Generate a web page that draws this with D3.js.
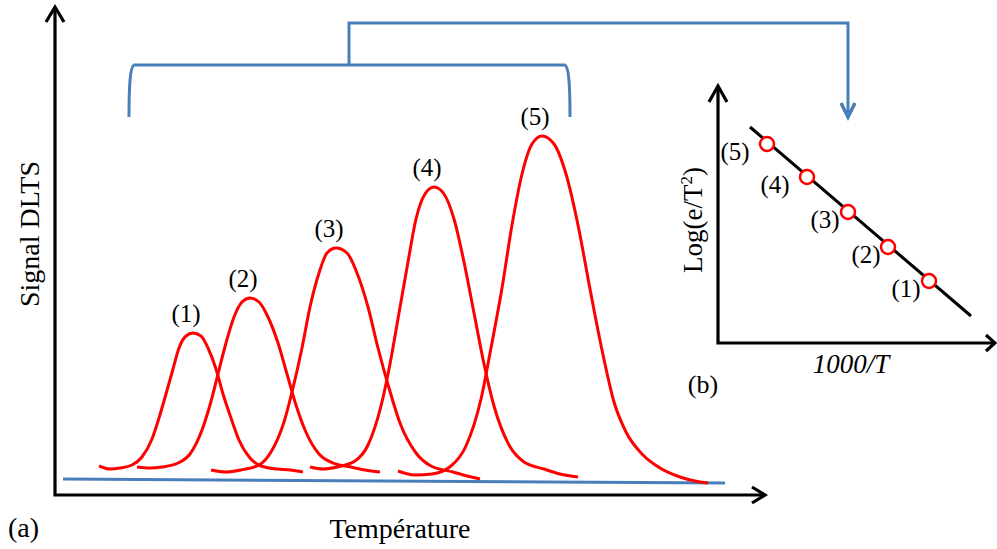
<!DOCTYPE html>
<html><head><meta charset="utf-8">
<script src="https://cdn.jsdelivr.net/npm/d3@7"></script>
<style>html,body{margin:0;padding:0;background:#fff;} svg{display:block;font-family:"Liberation Serif","Times New Roman",serif;}</style>
</head><body><svg id="chart" width="997" height="549"></svg>
<script>
// ---- data (arbitrary units) ----
const peakNames = ["(1)", "(2)", "(3)", "(4)", "(5)"];
// [temperature, DLTS signal]
const peak1 = [[44,29],[55,26],[65,27],[77,30],[87,38],[97,56],[104,77],[111,101],[118,126],[124,147],[131,159],[138,162],[146,159],[153,147],[161,126],[168,101],[176,77],[184,55],[195,37],[206,29],[222,26],[235,25],[248,23]];
const peak2 = [[82,28],[95,27],[107,28],[123,32],[135,41],[147,65],[155,90],[163,121],[171,152],[179,178],[187,193],[195,197],[204,193],[213,178],[223,152],[232,121],[241,90],[250,65],[264,41],[278,32],[296,28],[310,25],[325,23]];
const peak3 = [[156,25],[171,23],[186,25],[204,30],[216,43],[229,73],[238,107],[247,147],[255,188],[264,222],[272,242],[281,247],[292,242],[302,222],[313,188],[323,147],[334,107],[345,72],[361,42],[376,29],[398,23],[412,19],[425,16]];
const peak4 = [[255,28],[268,26],[282,28],[300,34],[313,50],[326,89],[335,131],[344,182],[353,233],[361,276],[370,301],[379,308],[389,301],[399,276],[409,233],[419,182],[429,131],[439,89],[454,50],[469,33],[489,26],[505,21],[523,18]];
const peak5 = [[343,24],[360,20],[377,21],[396,29],[411,49],[426,96],[436,147],[447,207],[457,270],[467,321],[477,351],[487,359],[499,351],[511,321],[523,270],[535,206],[547,145],[559,93],[571,63],[588,40],[605,27],[625,18],[640,14],[653,12]];
const peaks = [peak1, peak2, peak3, peak4, peak5];
const baseline = [[8,16],[670,12]];

// Arrhenius inset: (1)..(5)
const inverseT = [211, 170, 130, 89, 49];
const logEoverT2 = [62, 96, 131, 166, 199];
const fitLine = [[32,216],[253,27]];
const insetLabelDx = [-23, -22, -23, -32, -32];

// ---- drawing ----
const red = "#ff0000", blue = "#4a7ebb", ink = "#000";
const svg = d3.select("#chart");

const x = d3.scaleLinear().domain([0, 710]).range([55, 765]);
const y = d3.scaleLinear().domain([0, 488]).range([495, 7]);

// main axes
const ax = svg.append("g").attr("fill", "none").attr("stroke", ink).attr("stroke-width", 3.2);
ax.append("path").attr("d", `M${x(0)},${y(488)+1}L${x(0)},${y(0)}L${x(710)},${y(0)}`).attr("stroke-linejoin", "miter");
ax.append("path").attr("d", `M${x(0)-9},${y(488)+15}L${x(0)},${y(488)}L${x(0)+9},${y(488)+15}`);
ax.append("path").attr("d", `M${x(710)-13},${y(0)-8}L${x(710)},${y(0)}L${x(710)-13},${y(0)+8}`);

// blue baseline
const line = d3.line().x(d => x(d[0])).y(d => y(d[1]));
svg.append("path").attr("d", line(baseline)).attr("fill", "none").attr("stroke", blue).attr("stroke-width", 3);

// red DLTS peaks
const curve = d3.line().x(d => x(d[0])).y(d => y(d[1])).curve(d3.curveMonotoneX);
svg.append("g").selectAll("path").data(peaks).join("path")
  .attr("d", curve).attr("fill", "none").attr("stroke", red).attr("stroke-width", 3);

// peak labels
svg.append("g").selectAll("text").data(peaks).join("text")
  .attr("x", d => x(d3.greatest(d, p => p[1])[0]) - 7)
  .attr("y", d => y(d3.greatest(d, p => p[1])[1]) - 11)
  .attr("text-anchor", "middle").attr("font-size", 25).attr("fill", ink)
  .text((d, i) => peakNames[i]);

// blue bracket + arrow to the inset
const bL = x(74), bR = x(515), bTop = y(430), bBot = y(378), bC = x(294), bHigh = y(472), bDrop = x(793);
const br = svg.append("g").attr("fill", "none").attr("stroke", blue).attr("stroke-width", 3);
br.append("path").attr("d", `M${bL},${bBot}C${bL},${bTop+22} ${bL+1},${bTop+2} ${bL+5},${bTop}L${bR-5},${bTop}C${bR-1},${bTop+2} ${bR},${bTop+22} ${bR},${bBot}`);
br.append("path").attr("d", `M${bC},${bTop}L${bC},${bHigh}L${bDrop},${bHigh}L${bDrop},${bBot-2}`);
br.append("path").attr("d", `M${bDrop-7},${bBot-14}L${bDrop},${bBot}L${bDrop+7},${bBot-14}`).attr("stroke-width", 3.5);

// axis titles
svg.append("text").attr("transform", "translate(39,234) rotate(-90)").attr("text-anchor", "middle")
  .attr("font-size", 28).attr("fill", ink).text("Signal DLTS");
svg.append("text").attr("x", 400).attr("y", 538).attr("text-anchor", "middle")
  .attr("font-size", 28).attr("fill", ink).text("Température");
svg.append("text").attr("x", 8).attr("y", 537).attr("font-size", 28).attr("fill", ink).text("(a)");

// ---- inset (b) ----
const ix = d3.scaleLinear().domain([0, 278]).range([718, 996]);
const iy = d3.scaleLinear().domain([0, 257]).range([343, 86]);
const iax = svg.append("g").attr("fill", "none").attr("stroke", ink).attr("stroke-width", 3.2);
iax.append("path").attr("d", `M${ix(0)},${iy(257)+1}L${ix(0)},${iy(0)}L${ix(277)},${iy(0)}`);
iax.append("path").attr("d", `M${ix(0)-9},${iy(257)+16}L${ix(0)},${iy(257)}L${ix(0)+9},${iy(257)+16}`);
iax.append("path").attr("d", `M${ix(277)-9},${iy(0)-8}L${ix(277)},${iy(0)}L${ix(277)-9},${iy(0)+8}`);

svg.append("path").attr("d", d3.line().x(d => ix(d[0])).y(d => iy(d[1]))(fitLine))
  .attr("stroke", ink).attr("stroke-width", 3).attr("fill", "none");

const pts = inverseT.map((v, i) => ({ t: v, l: logEoverT2[i], name: peakNames[i], dx: insetLabelDx[i] }));
svg.append("g").selectAll("circle").data(pts).join("circle")
  .attr("cx", d => ix(d.t)).attr("cy", d => iy(d.l)).attr("r", 7)
  .attr("fill", "#fff").attr("stroke", red).attr("stroke-width", 2.5);
svg.append("g").selectAll("text").data(pts).join("text")
  .attr("x", d => ix(d.t) + d.dx).attr("y", d => iy(d.l) + 16)
  .attr("text-anchor", "middle").attr("font-size", 25).attr("fill", ink).text(d => d.name);

const lg = svg.append("text").attr("transform", "translate(702,220) rotate(-90)").attr("text-anchor", "middle")
  .attr("font-size", 27).attr("fill", ink);
lg.append("tspan").text("Log(e/T");
lg.append("tspan").attr("font-size", 17).attr("dy", -10).text("2");
lg.append("tspan").attr("dy", 10).text(")");
svg.append("text").attr("x", 851).attr("y", 373).attr("text-anchor", "middle").attr("font-style", "italic")
  .attr("font-size", 27).attr("fill", ink).text("1000/T");
svg.append("text").attr("x", 703).attr("y", 393).attr("text-anchor", "middle")
  .attr("font-size", 26).attr("fill", ink).text("(b)");
</script></body></html>
